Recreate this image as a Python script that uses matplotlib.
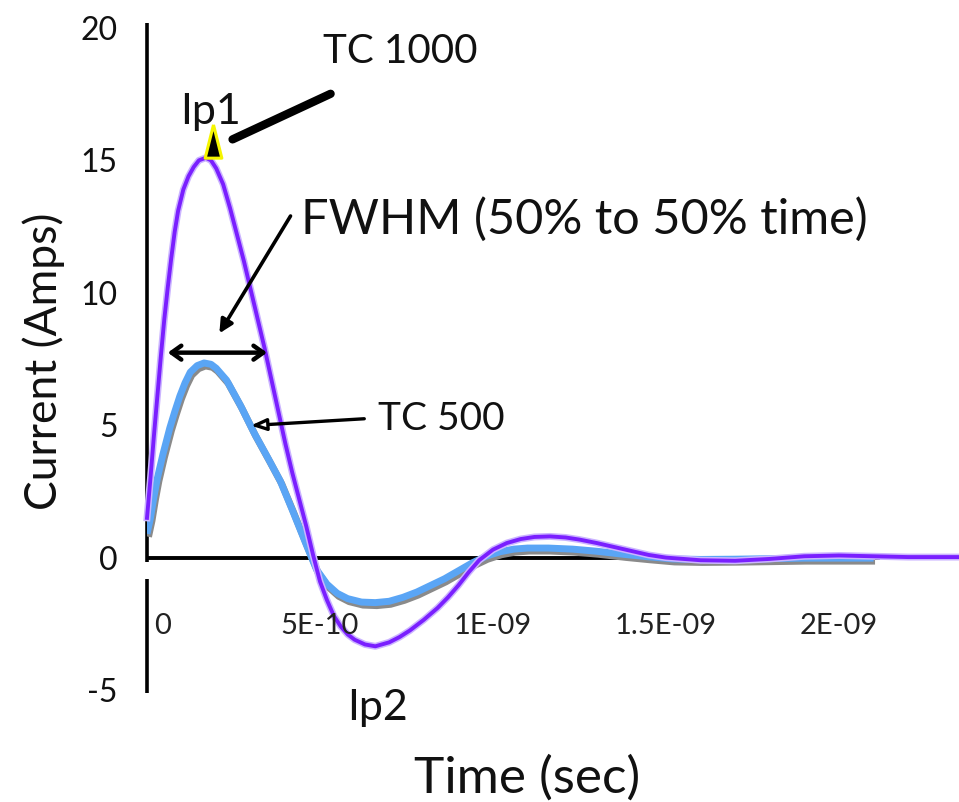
import matplotlib
matplotlib.use('Agg')
import matplotlib.pyplot as plt
import matplotlib.transforms as mtransforms
import numpy as np

plt.rcParams['font.family'] = ['Lato', 'DejaVu Sans']
plt.rcParams['axes.unicode_minus'] = False

# time in ns, current in A
t_tc1000 = [0.0, 0.01, 0.02, 0.03, 0.04, 0.05, 0.06, 0.07, 0.08, 0.09, 0.105,
            0.12, 0.135, 0.15, 0.17, 0.185, 0.20, 0.22, 0.24, 0.26, 0.28, 0.30,
            0.32, 0.34, 0.36, 0.38, 0.40, 0.42, 0.44, 0.46, 0.48, 0.50, 0.52,
            0.54, 0.56, 0.58, 0.60, 0.63, 0.66, 0.70, 0.73, 0.76, 0.80, 0.84,
            0.87, 0.90, 0.93, 0.96, 1.0, 1.04, 1.08, 1.12, 1.165, 1.21, 1.25,
            1.30, 1.35, 1.40, 1.45, 1.50, 1.6, 1.7, 1.8, 1.9, 2.0, 2.1, 2.2,
            2.35]
i_tc1000 = [1.5, 3.0, 4.6, 6.1, 7.6, 9.0, 10.2, 11.3, 12.3, 13.1, 13.9,
            14.4, 14.75, 15.0, 15.1, 15.0, 14.7, 14.1, 13.2, 12.2, 11.2, 10.1,
            9.0, 7.9, 6.7, 5.5, 4.3, 3.2, 2.2, 1.2, 0.1, -0.9, -1.6,
            -2.2, -2.6, -2.9, -3.1, -3.28, -3.35, -3.2, -3.0, -2.75, -2.35, -1.9,
            -1.5, -1.05, -0.55, -0.1, 0.3, 0.55, 0.7, 0.78, 0.8, 0.76, 0.68,
            0.55, 0.4, 0.25, 0.1, 0.0, -0.1, -0.12, -0.05, 0.05, 0.08, 0.05, 0.02,
            0.02]

t_tc500 = [0.0, 0.01, 0.02, 0.03, 0.046, 0.066, 0.08, 0.095, 0.11, 0.125,
           0.145, 0.165, 0.185, 0.20, 0.23, 0.27, 0.31, 0.35, 0.385, 0.42,
           0.46, 0.49, 0.52, 0.55, 0.58, 0.62, 0.66, 0.70, 0.74, 0.78, 0.82,
           0.86, 0.90, 0.94, 0.98, 1.02, 1.06, 1.10, 1.16, 1.23, 1.30, 1.38,
           1.45, 1.52, 1.6, 1.7, 1.8, 1.9, 2.0, 2.1]
i_tc500 = [0.9, 1.5, 2.3, 3.0, 3.9, 4.9, 5.5, 6.1, 6.6, 7.0,
           7.25, 7.35, 7.3, 7.15, 6.7, 5.75, 4.7, 3.75, 2.9, 1.8,
           0.5, -0.45, -1.0, -1.35, -1.55, -1.68, -1.7, -1.65, -1.5, -1.3, -1.05,
           -0.8, -0.5, -0.2, 0.05, 0.22, 0.32, 0.36, 0.36, 0.32, 0.24, 0.12,
           0.03, -0.05, -0.07, -0.06, -0.04, -0.02, -0.02, -0.02]

x_ticks = [0, 0.5e-9, 1e-9, 1.5e-9, 2e-9]
x_tick_labels = ["0", "5E-10", "1E-09", "1.5E-09", "2E-09"]
y_ticks = [-5, 0, 5, 10, 15, 20]

ns = 1e-9
t1 = np.array(t_tc1000) * ns
t5 = np.array(t_tc500) * ns

fig = plt.figure(figsize=(9.59, 8.02), dpi=100)
ax = fig.add_axes([147 / 959, 112 / 802, 812 / 959, 662 / 802])
ax.set_xlim(0, 2.347e-9)
ax.set_ylim(-5, 20)

for s in ax.spines.values():
    s.set_visible(False)
ax.set_xticks([])
ax.set_yticks(y_ticks)
ax.tick_params(axis='y', length=0, pad=21, labelsize=23, labelcolor='#111111')

# axis lines
ax.vlines(0, -0.15, 20.2, color='black', lw=2.6, clip_on=False)
ax.vlines(0, -0.8, -5.1, color='black', lw=2.6, clip_on=False)
ax.axhline(0, xmin=0, xmax=0.9, color='black', lw=2.8)

for xt, lab in zip(x_ticks, x_tick_labels):
    ax.text(xt + (0.02e-9 if xt == 0 else 0), -2.57, lab,
            ha='left' if xt == 0 else 'center', va='center',
            fontsize=21, color='#222222')

# traces
shadow = mtransforms.offset_copy(ax.transData, fig=fig, x=1.5, y=-3, units='dots')
ax.plot(t5, i_tc500, color='#8a8a8a', lw=5, transform=shadow, solid_capstyle='butt')
ax.plot(t5, i_tc500, color='#5aa5f5', lw=5, solid_capstyle='butt')
ax.plot(t1, i_tc1000, color='#cbb4ff', lw=5, clip_on=False)
ax.plot(t1, i_tc1000, color='#7a1fff', lw=2.8, clip_on=False)

# peak marker
tri = [(0, 1), (-0.5, -1), (0.5, -1), (0, 1)]
ax.plot([0.191e-9], [15.75], marker=tri, markersize=24, color='black',
        markeredgecolor='#f5f500', markeredgewidth=2.2, ls='none')

# annotations
txt = dict(color='#111111')
ax.text(0.509e-9, 18.66, "TC 1000", fontsize=29, ha='left', va='baseline', **txt)
ax.text(0.095e-9, 16.39, "Ip1", fontsize=31, ha='left', va='baseline', **txt)
ax.text(0.445e-9, 12.24, "FWHM (50% to 50% time)", fontsize=35, ha='left',
        va='baseline', **txt)
ax.text(0.668e-9, 4.80, "TC 500", fontsize=28, ha='left', va='baseline', **txt)
ax.text(0.578e-9, -6.12, "Ip2", fontsize=31, ha='left', va='baseline',
        clip_on=False, **txt)

ax.annotate("", xy=(0.240e-9, 15.75), xytext=(0.538e-9, 17.56),
            arrowprops=dict(arrowstyle='-', lw=6, color='black'))
ax.annotate("", xy=(0.205e-9, 8.38), xytext=(0.419e-9, 12.99),
            arrowprops=dict(arrowstyle='-|>,head_length=0.8,head_width=0.4',
                            lw=2.6, color='black'))
ax.annotate("", xy=(0.052e-9, 7.74), xytext=(0.355e-9, 7.74),
            arrowprops=dict(arrowstyle='<->,head_length=0.7,head_width=0.5',
                            lw=3.2, color='black'))
ax.annotate("", xy=(0.292e-9, 4.98), xytext=(0.636e-9, 5.25),
            arrowprops=dict(arrowstyle='-|>,head_length=0.9,head_width=0.35',
                            lw=2.4, color='black', fc='white'))

fig.text(527 / 959, 1 - 793 / 802, "Time (sec)", fontsize=37, ha='center',
         va='baseline', color='#111111')
fig.text(57 / 959, 1 - 361 / 802, "Current (Amps)", fontsize=32, rotation=90,
         ha='center', va='baseline', rotation_mode='anchor', color='#111111')

fig.savefig("out.png", dpi=100)
